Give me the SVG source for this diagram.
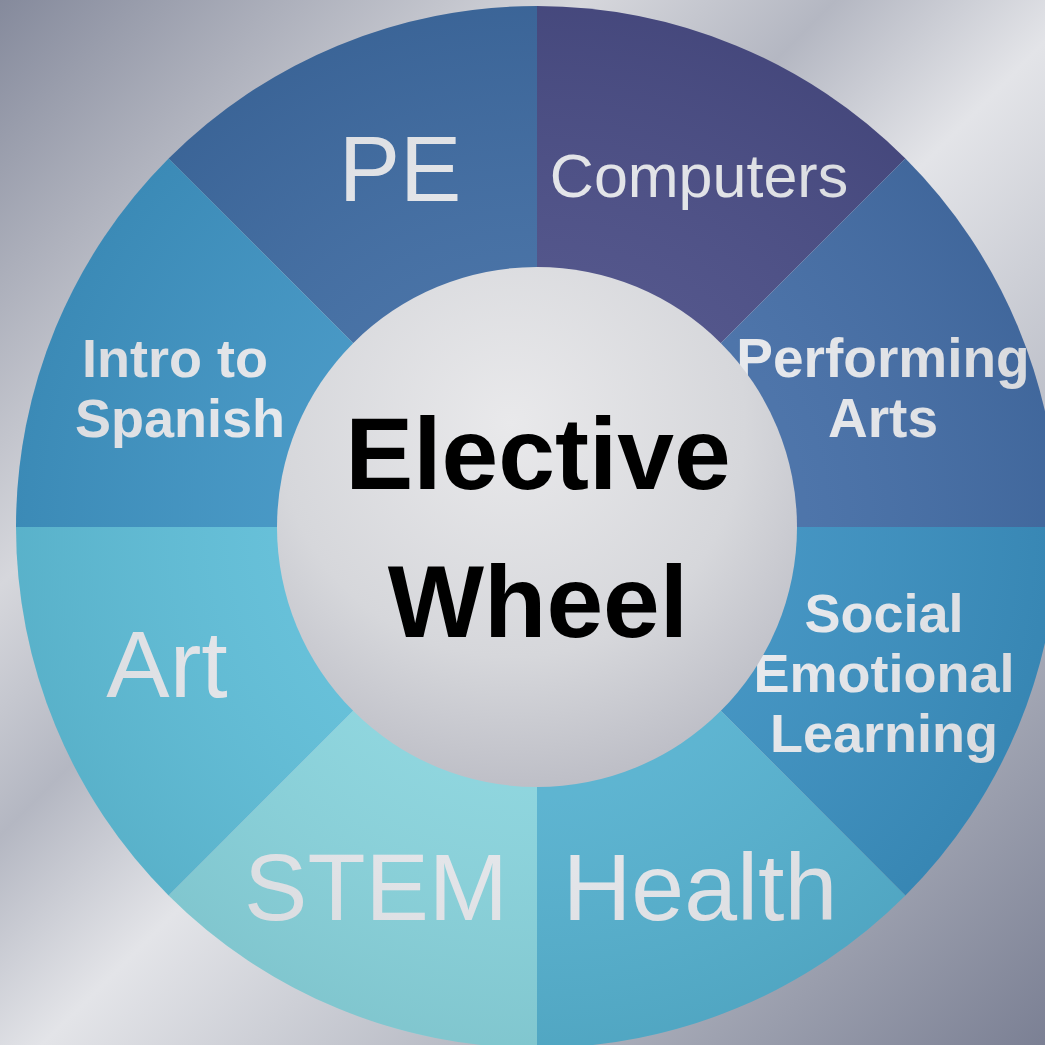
<svg xmlns="http://www.w3.org/2000/svg" width="1045" height="1045" viewBox="0 0 1045 1045">
<defs>
<linearGradient id="bg" x1="0" y1="0" x2="1045" y2="1045" gradientUnits="userSpaceOnUse">
<stop offset="0" stop-color="#858a9c"/>
<stop offset="0.28" stop-color="#d6d7dc"/>
<stop offset="0.4" stop-color="#b4b7c2"/>
<stop offset="0.52" stop-color="#e3e4e8"/>
<stop offset="0.72" stop-color="#b8bbc5"/>
<stop offset="1" stop-color="#7b8094"/>
</linearGradient>
<radialGradient id="hub" cx="0.45" cy="0.3" r="0.75">
<stop offset="0" stop-color="#e9e9eb"/>
<stop offset="0.6" stop-color="#d6d7db"/>
<stop offset="1" stop-color="#b9bac3"/>
</radialGradient>
<radialGradient id="shade" cx="537" cy="527" r="521" gradientUnits="userSpaceOnUse">
<stop offset="0.5" stop-color="#ffffff" stop-opacity="0.05"/>
<stop offset="1" stop-color="#000000" stop-opacity="0.06"/>
</radialGradient>
</defs>
<style>
.lbl{fill:#e6e8ec;font-family:"Liberation Sans",Arial,sans-serif;text-anchor:middle}
.b{font-weight:bold}
.hubtxt{fill:#000;font-family:"Liberation Sans",Arial,sans-serif;font-weight:bold;text-anchor:middle;font-size:102px}
</style>
<rect width="1045" height="1045" fill="url(#bg)"/>
<g id="wheel">
<g id="sector-pe"><path d="M537 527 L168.6 158.6 A521 521 0 0 1 537 6 Z" fill="#3f6ba1"/><text class="lbl" x="400" y="201" font-size="92">PE</text></g>
<g id="sector-computers"><path d="M537 527 L537 6 A521 521 0 0 1 905.4 158.6 Z" fill="#4a4d85"/><text class="lbl" x="699" y="197" font-size="61">Computers</text></g>
<g id="sector-performing"><path d="M537 527 L905.4 158.6 A521 521 0 0 1 1058 527 Z" fill="#456ea6"/><text class="lbl b" x="883" y="377" font-size="55">Performing</text><text class="lbl b" x="883" y="437" font-size="55">Arts</text></g>
<g id="sector-sel"><path d="M537 527 L1058 527 A521 521 0 0 1 905.4 895.4 Z" fill="#3b8fbf"/><text class="lbl b" x="884" y="632" font-size="54">Social</text><text class="lbl b" x="884" y="692" font-size="54">Emotional</text><text class="lbl b" x="884" y="752" font-size="54">Learning</text></g>
<g id="sector-health"><path d="M537 527 L905.4 895.4 A521 521 0 0 1 537 1048 Z" fill="#56b1cf"/><text class="lbl" x="700" y="920" font-size="95">Health</text></g>
<g id="sector-stem"><path d="M537 527 L537 1048 A521 521 0 0 1 168.6 895.4 Z" fill="#89d3dc"/><text class="lbl" x="376" y="920" font-size="95">STEM</text></g>
<g id="sector-art"><path d="M537 527 L168.6 895.4 A521 521 0 0 1 16 527 Z" fill="#5fbdd7"/><text class="lbl" x="167" y="697" font-size="95">Art</text></g>
<g id="sector-spanish"><path d="M537 527 L16 527 A521 521 0 0 1 168.6 158.6 Z" fill="#3f93c2"/><text class="lbl b" x="175" y="377" font-size="54">Intro to</text><text class="lbl b" x="180" y="437" font-size="54">Spanish</text></g>
<circle cx="537" cy="527" r="521" fill="url(#shade)"/>
</g>
<g id="connectors"></g>
<g id="hub-node">
<circle cx="537" cy="527" r="260" fill="url(#hub)"/>
<text class="hubtxt" x="538" y="489">Elective</text>
<text class="hubtxt" x="538" y="637">Wheel</text>
</g>
</svg>
